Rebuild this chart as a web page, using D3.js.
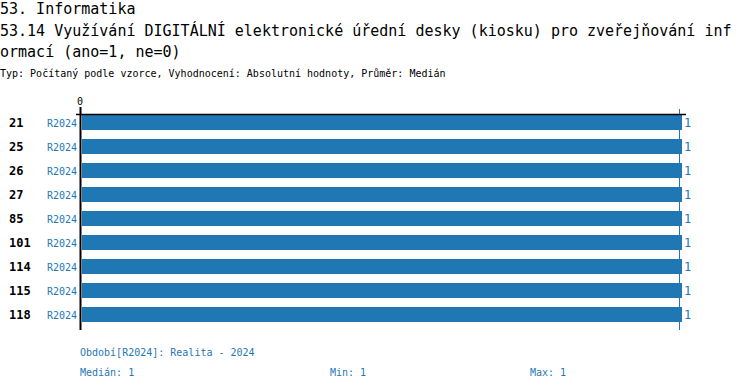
<!DOCTYPE html>
<html><head><meta charset="utf-8">
<script src="https://cdn.jsdelivr.net/npm/d3@7"></script>
<style>body{margin:0;background:#fff}svg{display:block}text{font-family:"DejaVu Sans Mono",monospace}</style>
</head><body>
<script>
const categories = ["21","25","26","27","85","101","114","115","118"];
const periods = ["R2024","R2024","R2024","R2024","R2024","R2024","R2024","R2024","R2024"];
const values = [1,1,1,1,1,1,1,1,1];
const titleLines = ["53. Informatika","53.14 Využívání DIGITÁLNÍ elektronické úřední desky (kiosku) pro zveřejňování inf","ormací (ano=1, ne=0)"];
const subtitle = "Typ: Počítaný podle vzorce, Vyhodnocení: Absolutní hodnoty, Průměr: Medián";
const footerPeriod = "Období[R2024]: Realita - 2024";
const stats = [["Medián: 1",80],["Min: 1",330],["Max: 1",530]];

const W=750,H=390, blue="#1f77b4";
const svg=d3.select("body").append("svg").attr("width",W).attr("height",H);
titleLines.forEach((t,i)=>svg.append("text").attr("x",0).attr("y",14+i*21.5).attr("font-size",15).attr("fill","#000").text(t));
svg.append("text").attr("x",0).attr("y",77).attr("font-size",10).attr("fill","#000").text(subtitle);

const x=d3.scaleLinear().domain([0,1]).range([81,680]);
const y=d3.scaleBand().domain(categories).range([115,331]).paddingInner(0.375).paddingOuter(0.1875).align(0);

svg.selectAll("rect.bar").data(values).enter().append("rect")
 .attr("x",x(0)+1).attr("y",(d,i)=>y(categories[i])).attr("width",d=>x(d)-x(0)+1).attr("height",y.bandwidth()).attr("fill",blue);

// reference line at max value
svg.append("line").attr("x1",x(1)-0.5).attr("x2",x(1)-0.5).attr("y1",109).attr("y2",330).attr("stroke",blue).attr("stroke-width",1);
// axes
svg.append("line").attr("x1",76).attr("x2",686).attr("y1",114.5).attr("y2",114.5).attr("stroke","#000").attr("stroke-width",1.5);
svg.append("line").attr("x1",80.5).attr("x2",80.5).attr("y1",107).attr("y2",330).attr("stroke","#000").attr("stroke-width",2);
svg.append("text").attr("x",x(0)-1).attr("y",105).attr("font-size",10).attr("text-anchor","middle").text("0");

const rows=svg.selectAll("g.row").data(categories).enter().append("g");
rows.append("text").attr("x",9).attr("y",d=>y(d)+y.bandwidth()/2+4).attr("font-size",12).attr("font-weight","bold").attr("fill","#000").text(d=>d);
rows.append("text").attr("x",77).attr("y",d=>y(d)+y.bandwidth()/2+4).attr("font-size",10).attr("text-anchor","end").attr("fill",blue).text((d,i)=>periods[i]);
rows.append("text").attr("x",(d,i)=>x(values[i])+4).attr("y",d=>y(d)+y.bandwidth()/2+4).attr("font-size",12).attr("fill",blue).text((d,i)=>values[i]);

svg.append("text").attr("x",80).attr("y",356).attr("font-size",10).attr("fill",blue).text(footerPeriod);
stats.forEach(s=>svg.append("text").attr("x",s[1]).attr("y",376).attr("font-size",10).attr("fill",blue).text(s[0]));
</script>
</body></html>
